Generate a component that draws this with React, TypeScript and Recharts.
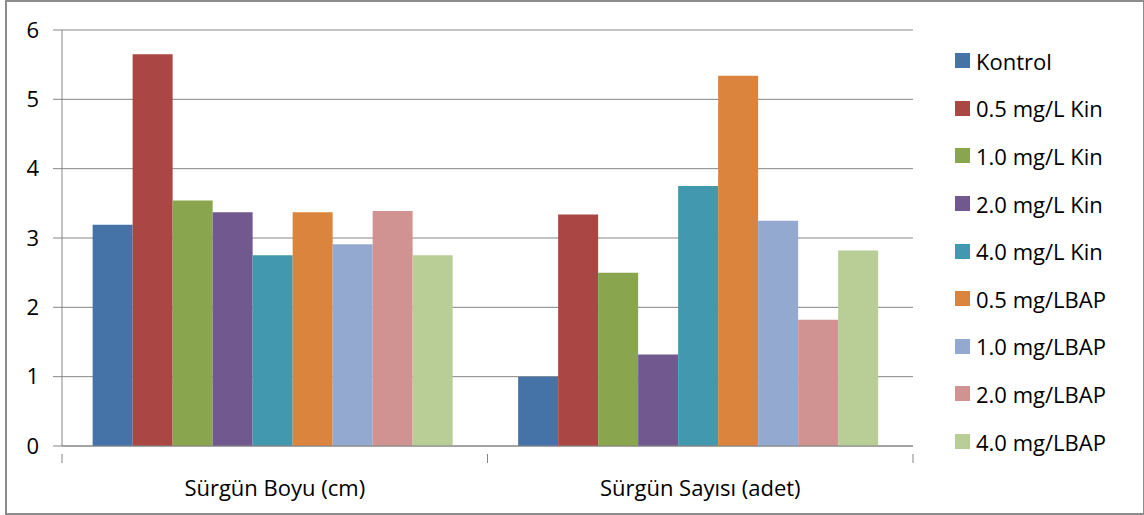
import React from "react";
import { BarChart, Bar, XAxis, YAxis, CartesianGrid } from "recharts";

const categories = ["Sürgün Boyu (cm)", "Sürgün Sayısı (adet)"];
const seriesNames = [
  "Kontrol",
  "0.5 mg/L Kin",
  "1.0 mg/L Kin",
  "2.0 mg/L Kin",
  "4.0 mg/L Kin",
  "0.5 mg/LBAP",
  "1.0 mg/LBAP",
  "2.0 mg/LBAP",
  "4.0 mg/LBAP",
];
const kontrol = [3.19, 1.0];
const kin05 = [5.65, 3.34];
const kin10 = [3.54, 2.5];
const kin20 = [3.37, 1.32];
const kin40 = [2.75, 3.75];
const bap05 = [3.37, 5.34];
const bap10 = [2.91, 3.25];
const bap20 = [3.39, 1.82];
const bap40 = [2.75, 2.82];
const yTicks = [0, 1, 2, 3, 4, 5, 6];
const colors = [
  "#4572A7",
  "#AA4643",
  "#89A54E",
  "#71588F",
  "#4198AF",
  "#DB843D",
  "#93A9CF",
  "#D19392",
  "#B9CD96",
];

const seriesValues = [kontrol, kin05, kin10, kin20, kin40, bap05, bap10, bap20, bap40];
const keys = seriesNames.map((_, i) => `s${i}`);
const data = categories.map((c, ci) => {
  const row: Record<string, any> = { name: c };
  seriesValues.forEach((arr, si) => {
    row[keys[si]] = arr[ci];
  });
  return row;
});

const FONT = "'Open Sans', sans-serif";
const AXIS = "#868686";

const CategoryTick = (props: any) => {
  const { x, y, payload } = props;
  const half = payload && payload.offset ? payload.offset : 425.5 / 2;
  return (
    <g>
      <line x1={x - half} y1={y} x2={x - half} y2={y + 9} stroke={AXIS} strokeWidth={1} />
      <line x1={x + half} y1={y} x2={x + half} y2={y + 9} stroke={AXIS} strokeWidth={1} />
      <text
        x={x}
        y={y + 42}
        textAnchor="middle"
        fontFamily={FONT}
        fontSize={22}
        fill="#000"
      >
        {payload.value}
      </text>
    </g>
  );
};

const LegendBox = () => (
  <div
    style={{
      position: "absolute",
      left: 955,
      top: 37,
      fontFamily: FONT,
      fontSize: 22,
      color: "#000",
    }}
  >
    {seriesNames.map((n, i) => (
      <div
        key={n}
        style={{ height: 47.6, display: "flex", alignItems: "center", whiteSpace: "nowrap" }}
      >
        <span
          style={{
            display: "inline-block",
            width: 15,
            height: 15,
            background: colors[i],
            marginRight: 6,
          }}
        />
        <span>{n}</span>
      </div>
    ))}
  </div>
);

export default function App() {
  return (
    <div style={{ position: "absolute", left: 0, top: 0, width: 1144, height: 515, background: "#fff" }}>
      <div
        style={{
          position: "absolute",
          left: 5,
          top: 0,
          width: 1136,
          height: 511,
          border: "2px solid #8c8c8c",
          boxSizing: "content-box",
        }}
      />
      <div style={{ position: "absolute", left: 0, top: 0 }}>
        <BarChart
          width={1144}
          height={515}
          data={data}
          margin={{ top: 30, right: 231, left: 0, bottom: 0 }}
          barCategoryGap="7.2%"
          barGap={0}
        >
          <CartesianGrid vertical={false} stroke={AXIS} strokeWidth={1} />
          <XAxis
            dataKey="name"
            height={69}
            axisLine={{ stroke: AXIS }}
            tickLine={false}
            tick={<CategoryTick />}
            interval={0}
          />
          <YAxis
            width={62}
            domain={[0, 6]}
            ticks={yTicks}
            interval={0}
            axisLine={{ stroke: AXIS }}
            tickLine={{ stroke: AXIS }}
            tickSize={9}
            tickMargin={14}
            tick={{ fill: "#000", fontFamily: FONT, fontSize: 22 }}
          />
          {keys.map((k, i) => (
            <Bar
              key={k}
              dataKey={k}
              name={seriesNames[i]}
              fill={colors[i]}
              isAnimationActive={false}
            />
          ))}
        </BarChart>
      </div>
      <LegendBox />
    </div>
  );
}
